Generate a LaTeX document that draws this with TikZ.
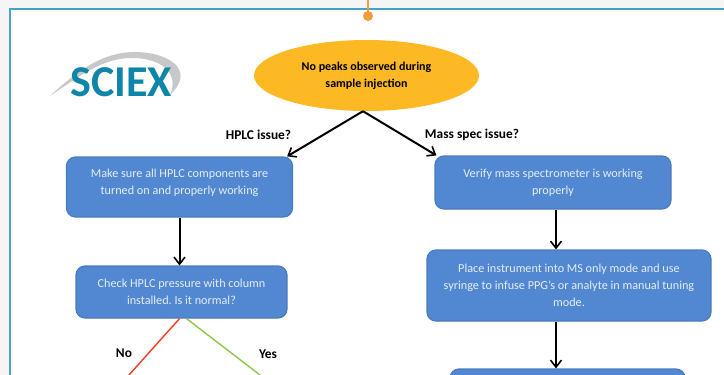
\documentclass[tikz,border=0pt]{standalone}
\usepackage{fontspec}
\setmainfont{Carlito}
\frenchspacing
\usetikzlibrary{arrows.meta}
\usetikzlibrary{shapes.geometric}
\definecolor{framecol}{HTML}{46A3C4}
\definecolor{dotcol}{HTML}{F79A3A}
\definecolor{startcol}{HTML}{FDB924}
\definecolor{boxcol}{HTML}{5288D1}
\definecolor{boxline}{HTML}{4A7DBD}
\definecolor{boxtext}{HTML}{E4EDF8}
\definecolor{logocol}{HTML}{0E86AA}
\definecolor{swooshcol}{HTML}{C6C8CA}
\definecolor{nocol}{HTML}{FA3A22}
\definecolor{yescol}{HTML}{8CC84B}
\tikzset{
  flowbox/.style={draw=boxline,line width=1.2pt,fill=boxcol,rounded corners=9pt,text=boxtext,
    align=center,inner sep=0pt,font=\fontsize{12.2}{17}\selectfont},
  issue/.style={font=\fontsize{13.4}{15}\selectfont\bfseries,text=black,inner sep=0pt},
  flow/.style={-{Straight Barb[length=7pt,width=11pt,line width=1.6pt]},line width=2pt,black},
}
\begin{document}
\begin{tikzpicture}[x=1pt,y=-1pt]
  \useasboundingbox (0,0) rectangle (724,375);
  \clip (0,0) rectangle (724,375);
  \fill[black!4] (0,0) rectangle (724,375);
  \draw[framecol,line width=1.6pt,fill=white] (730,9) -- (10,9) -- (10,385) -- (730,385);
  \draw[dotcol,line width=2pt] (368,0) -- (368,16);
  \fill[dotcol] (368,16) circle (5);

  \fill[swooshcol] (50,96) .. controls (80,68) and (105,52) .. (135,52)
    .. controls (165,52) and (198,68) .. (170,95)
    .. controls (180,72) and (160,58) .. (132,58)
    .. controls (105,58) and (85,72) .. (50,96);
  \node[font=\fontsize{44}{44}\selectfont\bfseries,text=logocol,inner sep=0pt] (logo) at (121,82) {SCIEX};

  \node[draw=none,fill=startcol,ellipse,minimum width=225pt,minimum height=71pt,inner sep=0pt,align=center,
    font=\fontsize{12}{17}\selectfont\bfseries] (start) at (366.5,75.5) {No peaks observed during\\sample injection};
  \node[flowbox,minimum width=226pt,minimum height=60pt,text depth=11pt] (hplc) at (179.5,187) {Make sure all HPLC components are\\turned on and properly working};
  \node[flowbox,minimum width=211pt,minimum height=52pt] (pressure) at (181.5,292) {Check HPLC pressure with column\\installed. Is it normal?};
  \node[flowbox,minimum width=236pt,minimum height=53pt] (spec) at (553,182.5) {Verify mass spectrometer is working\\properly};
  \node[flowbox,minimum width=284pt,minimum height=71pt] (tuning) at (569,285.5) {Place instrument into MS only mode and use\\syringe to infuse PPG’s or analyte in manual tuning\\mode.};
  \node[flowbox,minimum width=235pt,minimum height=40pt] (next) at (567.5,389) {};

  \node[issue] (hplclabel) at (258.5,135) {HPLC issue?};
  \node[issue] (speclabel) at (472,134.5) {Mass spec issue?};
  \node[issue] (nolabel) at (124,353.5) {No};
  \node[issue] (yeslabel) at (268,354.5) {Yes};

  \coordinate (noend) at (129,375);
  \coordinate (yesend) at (260,375);
  \draw[flow] ([xshift=-3.5pt]start.south) -- ([xshift=-6pt]hplc.north east);
  \draw[flow] ([xshift=-3.5pt]start.south) -- ([xshift=2pt]spec.north west);
  \draw[flow] (hplc.south) -- (hplc.south |- pressure.north);
  \draw[flow] ([xshift=3pt]spec.south) -- ([xshift=3pt]spec.south |- tuning.north);
  \draw[flow] ([xshift=3pt]spec.south |- tuning.south) -- ([xshift=3pt]spec.south |- next.north);
  \draw[nocol,line width=1.4pt] ([xshift=-2pt]pressure.south) -- (noend);
  \draw[yescol,line width=1.4pt] ([xshift=5pt]pressure.south) -- (yesend);
\end{tikzpicture}
\end{document}
